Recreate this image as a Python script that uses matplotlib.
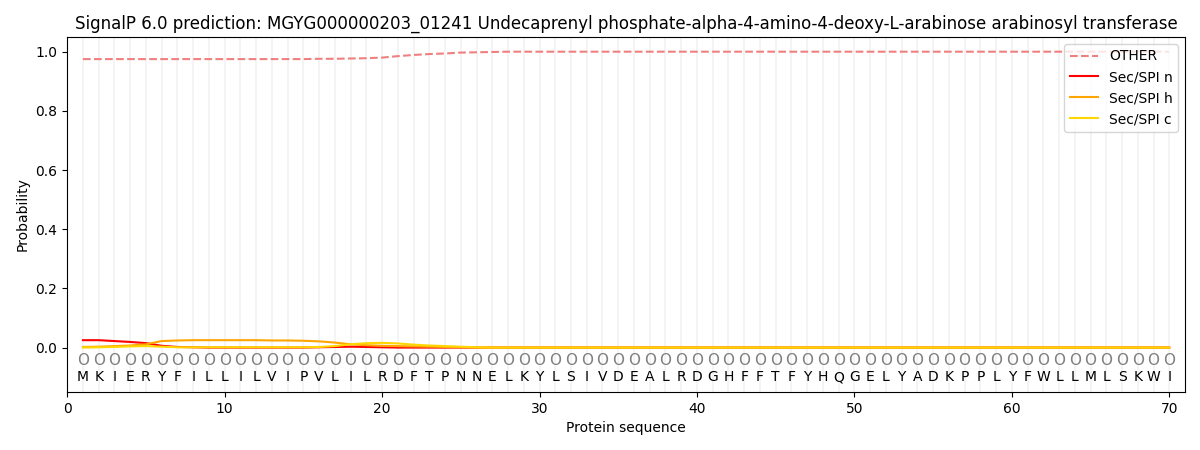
import matplotlib
matplotlib.use('Agg')
import matplotlib.pyplot as plt
import numpy as np

title = 'SignalP 6.0 prediction: MGYG000000203_01241 Undecaprenyl phosphate-alpha-4-amino-4-deoxy-L-arabinose arabinosyl transferase'
sequence = list('MKIERYFILLILVIPVLILRDFTPNNELKYLSIVDEALRDGHFFTFYHQGELYADKPPLYFWLLMLSKWI')
n = len(sequence)
pos = np.arange(1, n + 1)

other_head = [0.975, 0.975, 0.975, 0.975, 0.975, 0.975, 0.975, 0.975, 0.975, 0.975,
              0.975, 0.975, 0.975, 0.975, 0.975, 0.976, 0.976, 0.977, 0.978, 0.980,
              0.985, 0.989, 0.992, 0.994, 0.997, 0.998, 0.999]
spi_n_head = [0.025, 0.025, 0.022, 0.019, 0.015, 0.006, 0.002, 0.001, 0.0, 0.0,
              0.0, 0.0, 0.0, 0.0, 0.0, 0.001, 0.002, 0.003, 0.002, 0.001,
              0.0, 0.0, 0.0, 0.0, 0.0, 0.0, 0.0]
spi_h_head = [0.002, 0.003, 0.005, 0.007, 0.011, 0.022, 0.024, 0.025, 0.025, 0.025,
              0.025, 0.025, 0.024, 0.024, 0.023, 0.021, 0.017, 0.011, 0.008, 0.006,
              0.005, 0.004, 0.003, 0.002, 0.001, 0.0, 0.0]
spi_c_head = [0.0, 0.001, 0.002, 0.004, 0.005, 0.003, 0.001, 0.001, 0.001, 0.001,
              0.001, 0.001, 0.001, 0.001, 0.001, 0.002, 0.005, 0.011, 0.015, 0.016,
              0.014, 0.010, 0.007, 0.005, 0.003, 0.001, 0.0]

tail = n - len(other_head)
other = other_head + [1.0] * tail
spi_n = spi_n_head + [0.0] * tail
spi_h = spi_h_head + [0.0] * tail
spi_c = spi_c_head + [0.0] * tail

fig = plt.figure(figsize=(12, 4.5), dpi=100)
ax = fig.add_axes([0.056, 0.129, 0.9315, 0.789])

for p in pos:
    ax.axvline(p, color='#f2f2f2', linewidth=1.2, zorder=0)

ax.plot(pos, other, '--', color='lightcoral', label='OTHER', linewidth=1.5)
ax.plot(pos, spi_n, color='red', label='Sec/SPI n', linewidth=1.5)
ax.plot(pos, spi_h, color='orange', label='Sec/SPI h', linewidth=1.5)
ax.plot(pos, spi_c, color='gold', label='Sec/SPI c', linewidth=1.5)

for p, aa in zip(pos, sequence):
    ax.text(p, -0.045, 'O', ha='center', va='center', fontsize=11, color='gray')
    ax.text(p, -0.1, aa, ha='center', va='center', fontsize=10)

ax.set_xlim(0, 71)
ax.set_ylim(-0.15, 1.05)
ax.set_yticks([0.0, 0.2, 0.4, 0.6, 0.8, 1.0])
ax.set_xlabel('Protein sequence')
ax.set_ylabel('Probability')
ax.set_title(title)
ax.legend(loc='upper right')

fig.savefig('out.png')
